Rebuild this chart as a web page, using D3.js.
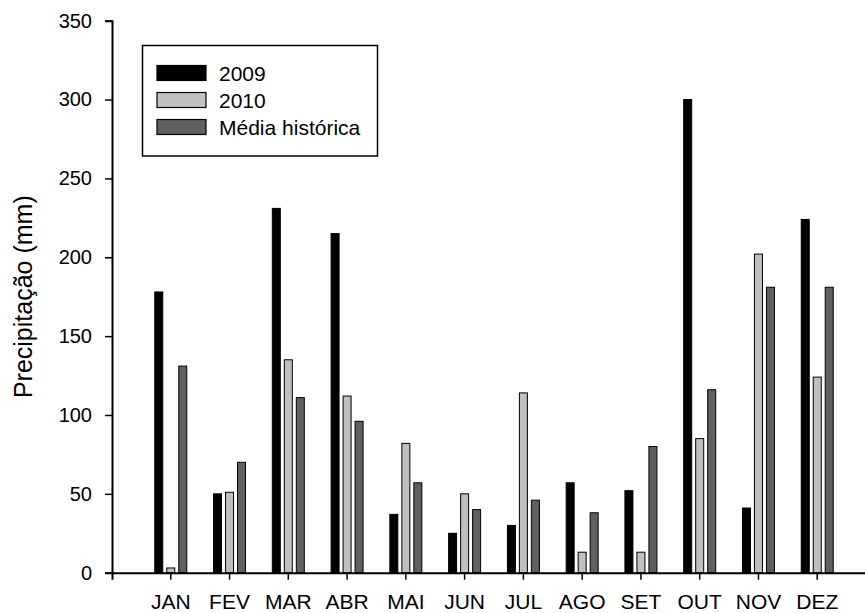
<!DOCTYPE html>
<html>
<head>
<meta charset="utf-8">
<script src="https://cdn.jsdelivr.net/npm/d3@7"></script>
<style>
  body { margin: 0; background: #fff; }
  text { font-family: "Liberation Sans", Arial, sans-serif; }
</style>
</head>
<body>
<div id="chart"></div>
<script>
// data
const months = ["JAN", "FEV", "MAR", "ABR", "MAI", "JUN", "JUL", "AGO", "SET", "OUT", "NOV", "DEZ"];
const series = ["2009", "2010", "Média histórica"];
const rain2009 = [178, 50, 231, 215, 37, 25, 30, 57, 52, 300, 41, 224];
const rain2010 = [3, 51, 135, 112, 82, 50, 114, 13, 13, 85, 202, 124];
const rainMedia = [131, 70, 111, 96, 57, 40, 46, 38, 80, 116, 181, 181];
const yTicks = [0, 50, 100, 150, 200, 250, 300, 350];

const colors = {
  "2009": "#000000",
  "2010": "#c0c0c0",
  "Média histórica": "#606060"
};

// dimensions
const W = 865, H = 613;
const plot = { left: 112, top: 20.7, bottom: 572.7, right: 876 };

const svg = d3.select("#chart")
  .append("svg")
  .attr("width", W)
  .attr("height", H);

const rows = months.map((m, i) => ({
  month: m,
  values: [rain2009[i], rain2010[i], rainMedia[i]]
}));

// scales
const x = d3.scaleBand()
  .domain(months)
  .range([plot.left, plot.right])
  .paddingInner(0)
  .paddingOuter(0.5);

const x1 = d3.scaleBand()
  .domain(series)
  .range([0, 32])
  .paddingInner(1 / 3)
  .paddingOuter(0);

const y = d3.scaleLinear()
  .domain([0, 350])
  .range([plot.bottom, plot.top]);

// bars
const groups = svg.selectAll(".grp")
  .data(rows)
  .enter()
  .append("g")
  .attr("class", "grp")
  .attr("transform", d => `translate(${x(d.month) + x.bandwidth() / 2 - 16},0)`);

groups.selectAll("rect")
  .data(d => d.values.map((v, j) => ({ key: series[j], value: v })))
  .enter()
  .append("rect")
  .attr("x", d => x1(d.key))
  .attr("y", d => y(d.value))
  .attr("width", x1.bandwidth())
  .attr("height", d => y(0) - y(d.value))
  .attr("fill", d => colors[d.key])
  .attr("stroke", "#000")
  .attr("stroke-width", 1);

// axes
const xAxis = svg.append("g")
  .attr("transform", `translate(0,${plot.bottom})`)
  .call(d3.axisBottom(x).tickSizeOuter(0).tickSize(7).tickPadding(14));

xAxis.select(".domain").attr("stroke-width", 2);
xAxis.selectAll(".tick line").attr("stroke-width", 1.5);
xAxis.selectAll("text")
  .style("font-size", "21px")
  .attr("fill", "#000");

const yAxis = svg.append("g")
  .attr("transform", `translate(${plot.left},0)`)
  .call(d3.axisLeft(y).tickValues(yTicks).tickSizeOuter(0).tickSize(7).tickPadding(13));

yAxis.select(".domain").attr("stroke-width", 2);
yAxis.selectAll(".tick line").attr("stroke-width", 1.5);
yAxis.selectAll("text")
  .style("font-size", "20px")
  .attr("fill", "#000");

// y label
svg.append("text")
  .attr("transform", `translate(32,${(plot.top + plot.bottom) / 2}) rotate(-90)`)
  .attr("text-anchor", "middle")
  .style("font-size", "25px")
  .text("Precipitação (mm)");

// legend
const legend = svg.append("g");

legend.append("rect")
  .attr("x", 142.5)
  .attr("y", 45.5)
  .attr("width", 235)
  .attr("height", 110.5)
  .attr("fill", "#fff")
  .attr("stroke", "#000")
  .attr("stroke-width", 1.5);

const items = legend.selectAll(".item")
  .data(series)
  .enter()
  .append("g")
  .attr("class", "item")
  .attr("transform", (d, i) => `translate(157,${73 + i * 27})`);

items.append("rect")
  .attr("x", 0)
  .attr("y", -7.5)
  .attr("width", 49)
  .attr("height", 15)
  .attr("fill", d => colors[d])
  .attr("stroke", "#000")
  .attr("stroke-width", 1.2);

items.append("text")
  .attr("x", 62)
  .attr("y", 0)
  .attr("dy", "0.36em")
  .style("font-size", "21px")
  .text(d => d);
</script>
</body>
</html>
